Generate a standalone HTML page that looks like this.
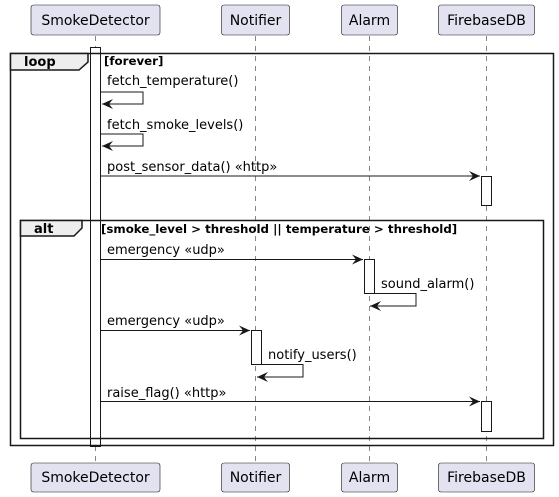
<!DOCTYPE html>
<html><head><style>body{margin:0;background:#fff}svg{display:block}text{font-family:"DejaVu Sans","Liberation Sans",sans-serif}</style></head>
<body>
<svg width="559" height="497" xmlns="http://www.w3.org/2000/svg">
<defs><marker id="a" markerWidth="12" markerHeight="10" refX="11" refY="5" orient="auto" markerUnits="userSpaceOnUse"><path d="M0,0 L11,5 L0,10 L4,5 Z" fill="#181818"/></marker></defs>
<g stroke="#555" stroke-width="0.7" stroke-dasharray="5,5">
<line x1="95.5" y1="36" x2="95.5" y2="462"/>
<line x1="255.5" y1="36" x2="255.5" y2="462"/>
<line x1="369.5" y1="36" x2="369.5" y2="462"/>
<line x1="486.5" y1="36" x2="486.5" y2="462"/>
</g>
<g fill="#e2e2f0" stroke="#181818" stroke-width="0.6">
<rect x="31" y="5" width="129" height="30" rx="2.5"/>
<rect x="221.5" y="5" width="68" height="30" rx="2.5"/>
<rect x="341.5" y="5" width="56" height="30" rx="2.5"/>
<rect x="438.5" y="5" width="96" height="30" rx="2.5"/>
<rect x="31" y="463" width="129" height="29" rx="2.5"/>
<rect x="221.5" y="463" width="68" height="29" rx="2.5"/>
<rect x="341.5" y="463" width="56" height="29" rx="2.5"/>
<rect x="438.5" y="463" width="96" height="29" rx="2.5"/>
</g>
<g font-size="14" fill="#000" text-anchor="middle">
<text x="95.5" y="25">SmokeDetector</text><text x="255.5" y="25">Notifier</text><text x="369.5" y="25">Alarm</text><text x="486.5" y="25">FirebaseDB</text>
<text x="95.5" y="482">SmokeDetector</text><text x="255.5" y="482">Notifier</text><text x="369.5" y="482">Alarm</text><text x="486.5" y="482">FirebaseDB</text>
</g>
<rect x="90.5" y="47.5" width="10" height="399" fill="#fff" stroke="#181818"/>
<rect x="10.5" y="53.5" width="543" height="392" fill="none" stroke="#181818" stroke-width="1.5"/>
<path d="M10.5,53.5 H88 V62 L79,70 H10.5 Z" fill="#eee" stroke="#181818" stroke-width="1.5"/>
<text x="24" y="66" font-size="13" font-weight="bold">loop</text>
<text x="104" y="65" font-size="11.8" font-weight="bold">[forever]</text>
<g stroke="#181818" fill="none">
<polyline points="101,92 143,92 143,104 102,104" marker-end="url(#a)"/>
<polyline points="101,134 143,134 143,146 102,146" marker-end="url(#a)"/>
<line x1="101" y1="176" x2="480" y2="176" marker-end="url(#a)"/>
</g>
<g font-size="13">
<text x="107" y="85">fetch_temperature()</text>
<text x="107" y="129">fetch_smoke_levels()</text>
<text x="107" y="171">post_sensor_data() «http»</text>
</g>
<rect x="481.5" y="176.5" width="10" height="29" fill="#fff" stroke="#181818"/>
<rect x="20.5" y="220.5" width="523" height="218" fill="none" stroke="#181818" stroke-width="1.5"/>
<path d="M20.5,220.5 H82 V228 L74,236 H20.5 Z" fill="#eee" stroke="#181818" stroke-width="1.5"/>
<text x="34" y="233" font-size="13" font-weight="bold">alt</text>
<text x="101" y="233" font-size="11.8" font-weight="bold">[smoke_level &gt; threshold || temperature &gt; threshold]</text>
<rect x="364.5" y="259.5" width="10" height="34" fill="#fff" stroke="#181818"/>
<rect x="251.5" y="330.5" width="10" height="34" fill="#fff" stroke="#181818"/>
<rect x="481.5" y="401.5" width="10" height="30" fill="#fff" stroke="#181818"/>
<g stroke="#181818" fill="none">
<line x1="101" y1="259.5" x2="363" y2="259.5" marker-end="url(#a)"/>
<polyline points="375,293.5 416,293.5 416,306 370,306" marker-end="url(#a)"/>
<line x1="101" y1="330.5" x2="250" y2="330.5" marker-end="url(#a)"/>
<polyline points="262,364.5 303,364.5 303,377 257,377" marker-end="url(#a)"/>
<line x1="101" y1="401.5" x2="480" y2="401.5" marker-end="url(#a)"/>
</g>
<g font-size="13">
<text x="107" y="254">emergency «udp»</text>
<text x="381" y="288">sound_alarm()</text>
<text x="107" y="325">emergency «udp»</text>
<text x="268" y="359">notify_users()</text>
<text x="107" y="397">raise_flag() «http»</text>
</g>
</svg>
</body></html>
